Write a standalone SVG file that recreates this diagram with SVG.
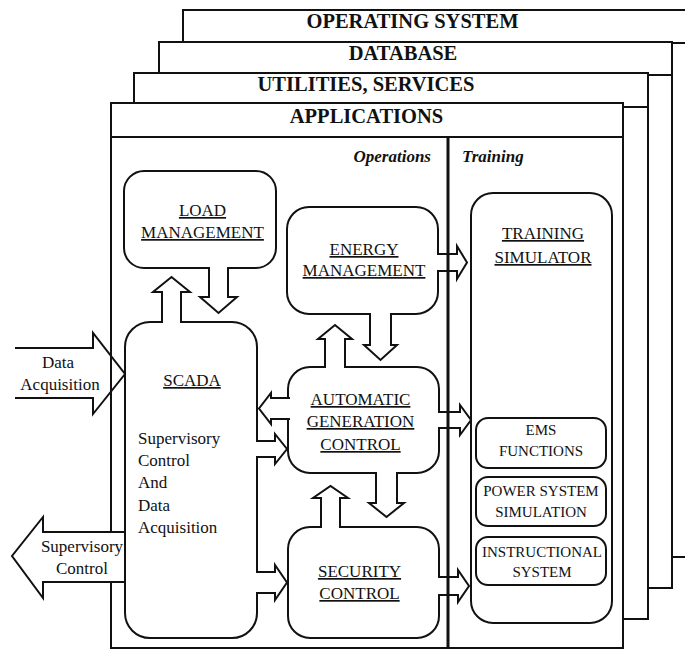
<svg xmlns="http://www.w3.org/2000/svg" width="685" height="650" viewBox="0 0 685 650">
<style>
.fr{fill:#fff;stroke:#111;stroke-width:2}
.ln{fill:none;stroke:#111;stroke-width:2}
.bx{fill:#fff;stroke:#111;stroke-width:2}
.ar{fill:#fff;stroke:#111;stroke-width:2;stroke-linejoin:miter}
.arn{fill:none;stroke:#111;stroke-width:2;stroke-linejoin:miter}
text{font-family:"Liberation Serif","Times New Roman",serif;fill:#111}
.tt{font-size:20.5px;font-weight:bold;text-anchor:middle}
.lb{font-size:17px;text-anchor:middle;text-decoration:underline}
.sb{font-size:15px;text-anchor:middle}
.tx{font-size:17px}
.txm{font-size:17px;text-anchor:middle}
.hd{font-size:17px;font-weight:bold;font-style:italic}
</style>
<rect width="685" height="650" fill="#fff"/>
<g id="frame-os">
<rect class="fr" x="183" y="10" width="600" height="547"/>
<line class="ln" x1="183" y1="43" x2="690" y2="43"/>
<text class="tt" x="412.5" y="28">OPERATING SYSTEM</text>
</g>
<g id="frame-database">
<rect class="fr" x="159" y="42" width="513" height="546"/>
<line class="ln" x1="159" y1="75" x2="672" y2="75"/>
<text class="tt" x="403" y="60">DATABASE</text>
</g>
<g id="frame-utilities">
<rect class="fr" x="134" y="73" width="514" height="546"/>
<line class="ln" x1="134" y1="107" x2="648" y2="107"/>
<text class="tt" x="366" y="91">UTILITIES, SERVICES</text>
</g>
<g id="frame-applications">
<rect class="fr" x="111" y="103" width="512" height="545"/>
<line class="ln" x1="111" y1="137" x2="623" y2="137"/>
<text class="tt" x="366.5" y="123">APPLICATIONS</text>
<text class="hd" x="431" y="162" text-anchor="end">Operations</text>
<text class="hd" x="462" y="162">Training</text>
</g>
<g id="load-management">
<rect class="bx" x="124" y="171" width="152" height="97" rx="20"/>
<text class="lb" x="202.5" y="216">LOAD</text>
<text class="lb" x="202.5" y="238">MANAGEMENT</text>
</g>
<g id="scada">
<rect class="bx" x="125" y="322" width="132" height="316" rx="25"/>
<text class="lb" x="192" y="386">SCADA</text>
<text class="tx" x="138" y="444">Supervisory</text>
<text class="tx" x="138" y="466">Control</text>
<text class="tx" x="138" y="488">And</text>
<text class="tx" x="138" y="511">Data</text>
<text class="tx" x="138" y="533">Acquisition</text>
</g>
<g id="energy-management">
<rect class="bx" x="287" y="207" width="151" height="107" rx="22"/>
<text class="lb" x="364" y="255">ENERGY</text>
<text class="lb" x="364" y="276">MANAGEMENT</text>
</g>
<g id="agc">
<rect class="bx" x="288" y="367" width="151" height="106" rx="22"/>
<text class="lb" x="360.5" y="405">AUTOMATIC</text>
<text class="lb" x="360.5" y="427">GENERATION</text>
<text class="lb" x="360.5" y="450">CONTROL</text>
</g>
<g id="security-control">
<rect class="bx" x="288" y="527" width="151" height="111" rx="22"/>
<text class="lb" x="359.5" y="577">SECURITY</text>
<text class="lb" x="359.5" y="599">CONTROL</text>
</g>
<g id="training-simulator">
<rect class="bx" x="471" y="193" width="141" height="430" rx="22"/>
<text class="lb" x="543" y="239">TRAINING</text>
<text class="lb" x="543" y="263">SIMULATOR</text>
</g>
<g id="ems-functions">
<rect class="bx" x="476" y="418" width="130" height="50" rx="12"/>
<text class="sb" x="541" y="435">EMS</text>
<text class="sb" x="541" y="456">FUNCTIONS</text>
</g>
<g id="power-system-simulation">
<rect class="bx" x="476" y="477" width="130" height="49" rx="12"/>
<text class="sb" x="541" y="496">POWER SYSTEM</text>
<text class="sb" x="541" y="517">SIMULATION</text>
</g>
<g id="instructional-system">
<rect class="bx" x="476" y="537" width="130" height="48" rx="12"/>
<text class="sb" x="542" y="557">INSTRUCTIONAL</text>
<text class="sb" x="542" y="577">SYSTEM</text>
</g>
<g id="connectors">
<path class="arn" d="M15,348 H93 V333 L125,374 L93,414 V398 H15"/>
<text class="txm" x="58" y="368">Data</text>
<text class="txm" x="60" y="390">Acquisition</text>
<path class="ar" d="M124,532 H43 V517 L12,556 L43,598 V582 H124"/>
<text class="txm" x="82" y="552">Supervisory</text>
<text class="txm" x="82" y="574">Control</text>
<path class="ar" d="M209,267 V297 H200 L218.5,313 L237,297 H228 V267"/>
<path class="ar" d="M162,323 V292 H153 L171.5,277 L190,292 H181 V323"/>
<path class="ar" d="M256,441 H275 V434 L287,449 L275,464 V457 H256"/>
<path class="ar" d="M256,572 H275 V565 L287,582.5 L275,600 V593 H256"/>
<path class="ar" d="M290,398 H271 V393 L259,408.5 L271,424 V419 H290"/>
<path class="ar" d="M437,254 H457 V246 L467,262.5 L457,279 V271 H437"/>
<path class="ar" d="M438,412 H460 V405 L471,420 L460,435 V428 H438"/>
<path class="ar" d="M438,577 H458 V570 L469,586 L458,602 V595 H438"/>
<path class="ar" d="M370,313 V345 H364 L380.5,360 L397,345 H391 V313"/>
<path class="ar" d="M325,368 V339 H318 L335,325 L352,339 H345 V368"/>
<path class="ar" d="M376,472 V503 H369 L386.5,517 L404,503 H397 V472"/>
<path class="ar" d="M321,528 V498 H313 L330.5,486 L348,498 H340 V528"/>
</g>
<g id="divider">
<line x1="448" y1="137" x2="448" y2="648" stroke="#111" stroke-width="3"/>
</g>
</svg>
